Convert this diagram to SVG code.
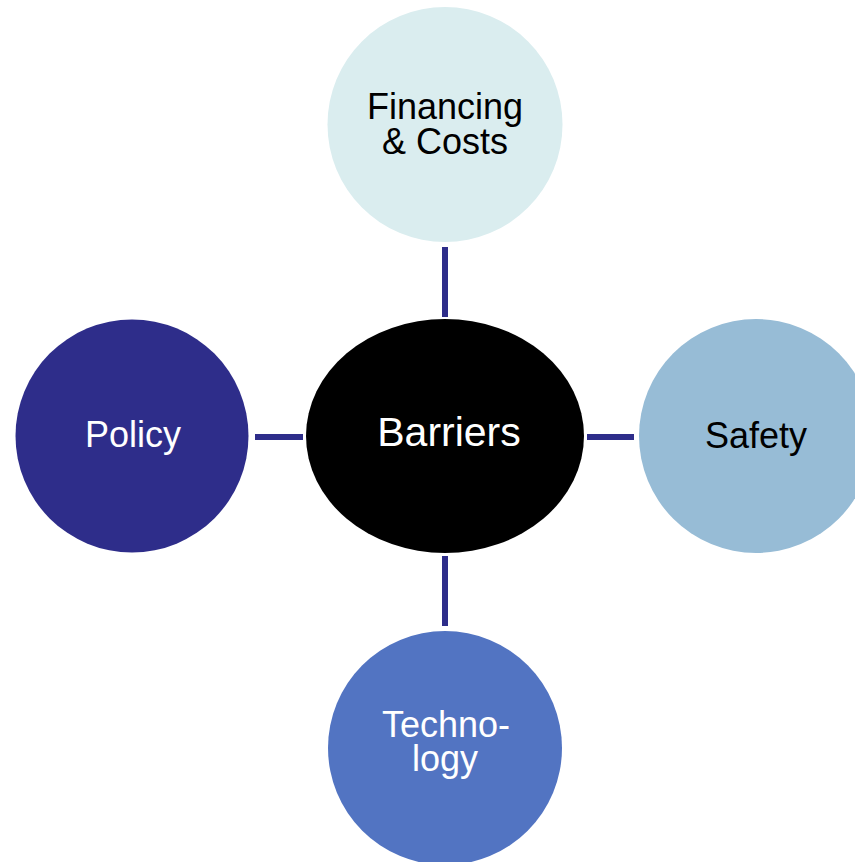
<svg xmlns="http://www.w3.org/2000/svg" width="855" height="862" viewBox="0 0 855 862">
  <style>
    .lbl { font-family: "Liberation Sans", Arial, sans-serif; font-size: 36px; text-anchor: middle; }
    .dark { fill: #000000; }
    .light { fill: #ffffff; }
    .link { stroke: #2e2d8a; stroke-width: 6; fill: none; }
  </style>
  <rect width="855" height="862" fill="#ffffff"/>

  <!-- spokes between the hub and the outer nodes -->
  <g id="connectors">
    <line class="link" x1="445" y1="247" x2="445" y2="317"/>
    <line class="link" x1="445" y1="556" x2="445" y2="626"/>
    <line class="link" x1="255" y1="437" x2="303" y2="437"/>
    <line class="link" x1="587" y1="437" x2="634" y2="437"/>
  </g>

  <g id="hub">
    <ellipse cx="445" cy="436" rx="139" ry="117" fill="#000000"/>
    <text class="lbl light" x="449" y="446" style="font-size:41px">Barriers</text>
  </g>

  <g id="financing">
    <circle cx="445" cy="124.5" r="117.5" fill="#daedef"/>
    <text class="lbl dark" x="445" y="119">Financing</text>
    <text class="lbl dark" x="445" y="154">&amp; Costs</text>
  </g>

  <g id="policy">
    <circle cx="132" cy="436" r="116.5" fill="#2e2d8a"/>
    <text class="lbl light" x="133" y="447">Policy</text>
  </g>

  <g id="safety">
    <circle cx="756" cy="436" r="117" fill="#97bcd6"/>
    <text class="lbl dark" x="756" y="448">Safety</text>
  </g>

  <g id="technology">
    <circle cx="445" cy="748" r="117" fill="#5274c2"/>
    <text class="lbl light" x="446" y="737">Techno-</text>
    <text class="lbl light" x="445" y="771">logy</text>
  </g>
</svg>
